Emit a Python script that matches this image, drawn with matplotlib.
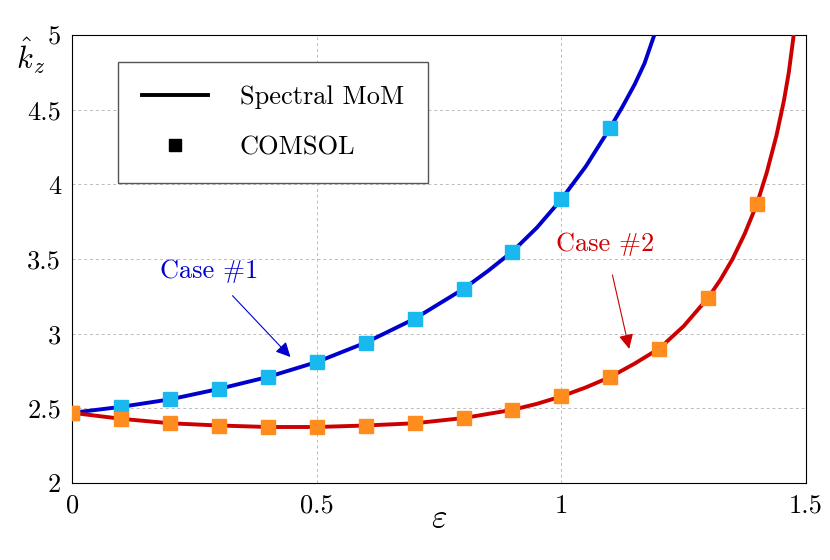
import matplotlib
matplotlib.use("Agg")
import matplotlib.pyplot as plt
from matplotlib.lines import Line2D

plt.rcParams['font.family'] = 'serif'
plt.rcParams['font.serif'] = ['cmr10', 'DejaVu Serif']
plt.rcParams['mathtext.fontset'] = 'cm'
plt.rcParams['axes.formatter.use_mathtext'] = True

eps_pts1 = [0, 0.1, 0.2, 0.3, 0.4, 0.5, 0.6, 0.7, 0.8, 0.9, 1.0, 1.1]
kz_pts1 = [2.47, 2.51, 2.56, 2.63, 2.71, 2.81, 2.94, 3.10, 3.30, 3.55, 3.90, 4.38]
eps_line1 = [0, 0.1, 0.2, 0.3, 0.4, 0.5, 0.6, 0.7, 0.8, 0.85, 0.9, 0.95, 1.0, 1.05, 1.1, 1.125, 1.15, 1.17, 1.19]
kz_line1 = [2.47, 2.51, 2.56, 2.63, 2.71, 2.81, 2.94, 3.10, 3.30, 3.42, 3.55, 3.71, 3.90, 4.12, 4.38, 4.52, 4.67, 4.81, 5.0]

eps_pts2 = [0, 0.1, 0.2, 0.3, 0.4, 0.5, 0.6, 0.7, 0.8, 0.9, 1.0, 1.1, 1.2, 1.3, 1.4]
kz_pts2 = [2.47, 2.43, 2.40, 2.385, 2.375, 2.375, 2.385, 2.40, 2.435, 2.49, 2.58, 2.71, 2.90, 3.24, 3.87]
eps_line2 = [0, 0.1, 0.2, 0.3, 0.4, 0.5, 0.6, 0.7, 0.8, 0.9, 0.95, 1.0, 1.05, 1.1, 1.15, 1.2, 1.25, 1.3, 1.325, 1.35, 1.375, 1.4, 1.42, 1.44, 1.455, 1.465, 1.475]
kz_line2 = [2.47, 2.43, 2.40, 2.385, 2.375, 2.375, 2.385, 2.40, 2.435, 2.49, 2.53, 2.58, 2.64, 2.71, 2.80, 2.90, 3.05, 3.24, 3.36, 3.50, 3.67, 3.87, 4.08, 4.33, 4.56, 4.75, 5.0]

xticks = [0, 0.5, 1, 1.5]
xticklabels = ['0', '0.5', '1', '1.5']
yticks = [2, 2.5, 3, 3.5, 4, 4.5, 5]
yticklabels = ['2', '2.5', '3', '3.5', '4', '4.5', '5']

fig = plt.figure(figsize=(8.3, 5.6), dpi=100)
ax = fig.add_axes([0.087, 0.1375, 0.884, 0.8])
ax.grid(True, ls=(0, (3, 3)), color='#bbbbbb', lw=0.7)
ax.plot(eps_line1, kz_line1, color='#0000CC', lw=2.8, zorder=3)
ax.plot(eps_line2, kz_line2, color='#CC0000', lw=2.8, zorder=3)
ax.plot(eps_pts1, kz_pts1, 's', color='#19B9F0', ms=9.5, zorder=4)
ax.plot(eps_pts2, kz_pts2, 's', color='#FF8C1E', ms=9.5, zorder=4)
ax.set_xlim(0, 1.5)
ax.set_ylim(2, 5)
ax.set_xticks(xticks)
ax.set_xticklabels(xticklabels)
ax.set_yticks(yticks)
ax.set_yticklabels(yticklabels)
ax.tick_params(labelsize=19, direction='in', length=0, pad=8)
ax.set_xlabel(r'$\varepsilon$', fontsize=24, labelpad=-10)
ax.text(-0.085, 5.0, r'$\hat{k}_z$', fontsize=22, ha='center', va='top')

h = [Line2D([], [], color='k', lw=2.8), Line2D([], [], ls='', marker='s', color='k', ms=8)]
ax.legend(h, ['Spectral MoM', 'COMSOL'], loc='upper left', bbox_to_anchor=(0.045, 0.97),
          fontsize=19, fancybox=False, edgecolor='#555555', framealpha=1,
          borderpad=0.9, labelspacing=1.0, handlelength=2.5, handletextpad=1.2)

ax.annotate('Case #1', xy=(0.45, 2.83), xytext=(0.28, 3.42), color='#0000CC', fontsize=19,
            ha='center', va='center',
            arrowprops=dict(arrowstyle='-|>', color='#0000CC', lw=0.8, mutation_scale=22,
                            shrinkA=10))
ax.annotate('Case #2', xy=(1.14, 2.88), xytext=(1.09, 3.6), color='#CC0000', fontsize=19,
            ha='center', va='center',
            arrowprops=dict(arrowstyle='-|>', color='#CC0000', lw=0.8, mutation_scale=22,
                            shrinkA=12))
fig.savefig('out.png', dpi=100)
